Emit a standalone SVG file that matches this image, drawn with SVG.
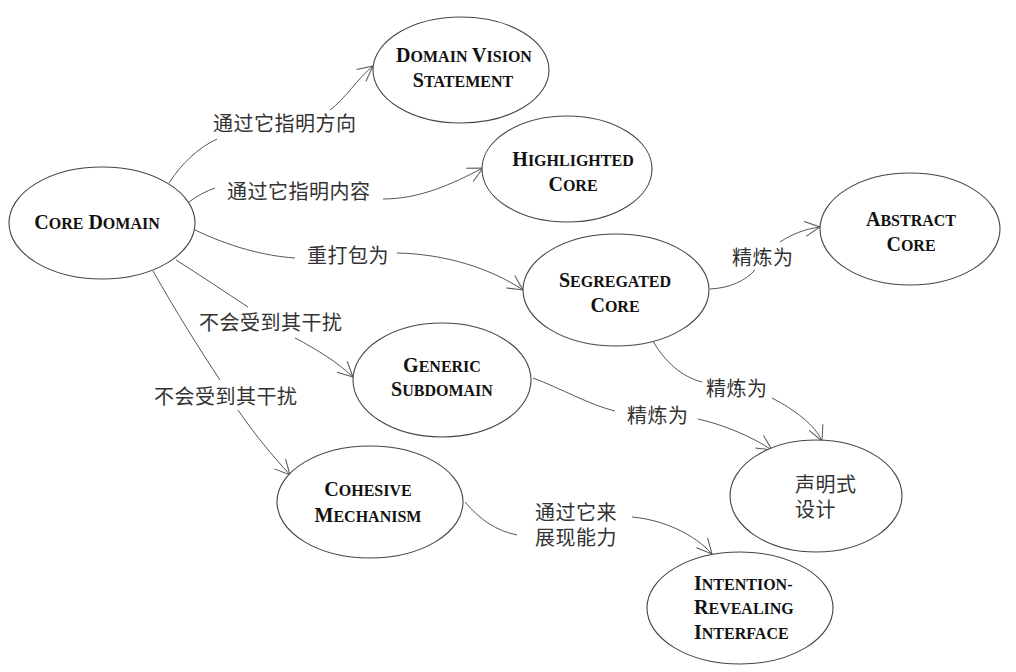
<svg xmlns="http://www.w3.org/2000/svg" width="1016" height="672" viewBox="0 0 1016 672">
<style>
.node ellipse{fill:#fff;stroke:#444;stroke-width:1.1}
.t{font-family:"Liberation Serif","Times New Roman",serif;font-weight:bold;font-size:20px;fill:#111}
.t tspan.s{font-size:16px}
.lbl{font-family:"Liberation Sans","Noto Sans CJK SC","Noto Sans CJK TC",sans-serif;font-size:20px;fill:#333;letter-spacing:0.5px}
#connectors path{fill:none;stroke:#555;stroke-width:1}
</style>
<defs>
<marker id="arr" markerUnits="userSpaceOnUse" markerWidth="20" markerHeight="20" refX="0" refY="0" viewBox="-17 -10 20 20" orient="auto" overflow="visible">
<path d="M-15,-7.5 L0,0 L-15,7.5" fill="none" stroke="#555" stroke-width="1"/>
</marker>
</defs>
<rect width="1016" height="672" fill="#fff"/>
<g id="connectors">
<path d="M169,183 C182,163 198,148 217,139 M330,110 C345,99 358,78 373,66" marker-end="url(#arr)"/>
<path d="M189,202 C197,196 206,191 215,188 M383,199 C420,199 452,184 483,168" marker-end="url(#arr)"/>
<path d="M193,229 C230,247 265,256 295,258 M397,253 C445,254 490,268 523,290" marker-end="url(#arr)"/>
<path d="M176,260 C200,275 225,292 248,307 M295,338 C318,350 337,362 353,377" marker-end="url(#arr)"/>
<path d="M153,271 C175,310 200,350 220,380 M238,410 C255,435 272,455 290,475" marker-end="url(#arr)"/>
<path d="M710,289 C730,288 745,281 755,270 M780,242 C792,234 805,229 820,227" marker-end="url(#arr)"/>
<path d="M653,341 C665,362 682,377 702,382 M772,398 C795,410 815,425 822,441" marker-end="url(#arr)"/>
<path d="M533,378 C560,388 590,405 615,411 M698,419 C725,425 752,437 772,450" marker-end="url(#arr)"/>
<path d="M465,502 C480,520 497,531 517,535 M632,517 C665,520 695,535 712,554" marker-end="url(#arr)"/>
</g>
<g id="labels">
<text class="lbl" x="213" y="131">通过它指明方向</text>
<text class="lbl" x="227" y="199">通过它指明内容</text>
<text class="lbl" x="307" y="263">重打包为</text>
<text class="lbl" x="199" y="330">不会受到其干扰</text>
<text class="lbl" x="154" y="404">不会受到其干扰</text>
<text class="lbl" x="732" y="265">精炼为</text>
<text class="lbl" x="706" y="396">精炼为</text>
<text class="lbl" x="627" y="423">精炼为</text>
<text class="lbl" x="535" y="520">通过它来<tspan x="535" dy="25">展现能力</tspan></text>
</g>
<g id="core-domain" class="node">
<ellipse cx="102" cy="223" rx="93" ry="56"/>
<text class="t" x="97" y="229" text-anchor="middle">C<tspan class="s">ORE</tspan> D<tspan class="s">OMAIN</tspan></text>
</g>
<g id="domain-vision-statement" class="node">
<ellipse cx="461" cy="70" rx="88" ry="53"/>
<text class="t" x="464" y="62" text-anchor="middle">D<tspan class="s">OMAIN</tspan> V<tspan class="s">ISION</tspan></text>
<text class="t" x="463" y="87" text-anchor="middle">S<tspan class="s">TATEMENT</tspan></text>
</g>
<g id="highlighted-core" class="node">
<ellipse cx="567" cy="169" rx="85" ry="53"/>
<text class="t" x="573" y="166" text-anchor="middle">H<tspan class="s">IGHLIGHTED</tspan></text>
<text class="t" x="573" y="191" text-anchor="middle">C<tspan class="s">ORE</tspan></text>
</g>
<g id="abstract-core" class="node">
<ellipse cx="910" cy="229" rx="90" ry="56"/>
<text class="t" x="911" y="226" text-anchor="middle">A<tspan class="s">BSTRACT</tspan></text>
<text class="t" x="911" y="251" text-anchor="middle">C<tspan class="s">ORE</tspan></text>
</g>
<g id="segregated-core" class="node">
<ellipse cx="616" cy="290" rx="93" ry="56"/>
<text class="t" x="615" y="287" text-anchor="middle">S<tspan class="s">EGREGATED</tspan></text>
<text class="t" x="615" y="312" text-anchor="middle">C<tspan class="s">ORE</tspan></text>
</g>
<g id="generic-subdomain" class="node">
<ellipse cx="442" cy="380" rx="89" ry="57"/>
<text class="t" x="442" y="372" text-anchor="middle">G<tspan class="s">ENERIC</tspan></text>
<text class="t" x="442" y="396" text-anchor="middle">S<tspan class="s">UBDOMAIN</tspan></text>
</g>
<g id="cohesive-mechanism" class="node">
<ellipse cx="370" cy="502" rx="93" ry="56"/>
<text class="t" x="368" y="496" text-anchor="middle">C<tspan class="s">OHESIVE</tspan></text>
<text class="t" x="368" y="522" text-anchor="middle">M<tspan class="s">ECHANISM</tspan></text>
</g>
<g id="declarative-design" class="node">
<ellipse cx="816" cy="496" rx="86" ry="56"/>
<text class="lbl" x="795" y="492">声明式<tspan x="795" dy="25">设计</tspan></text>
</g>
<g id="intention-revealing-interface" class="node">
<ellipse cx="740" cy="608" rx="93" ry="56"/>
<text class="t" x="694" y="590">I<tspan class="s">NTENTION-</tspan></text>
<text class="t" x="694" y="614">R<tspan class="s">EVEALING</tspan></text>
<text class="t" x="694" y="639">I<tspan class="s">NTERFACE</tspan></text>
</g>
</svg>
